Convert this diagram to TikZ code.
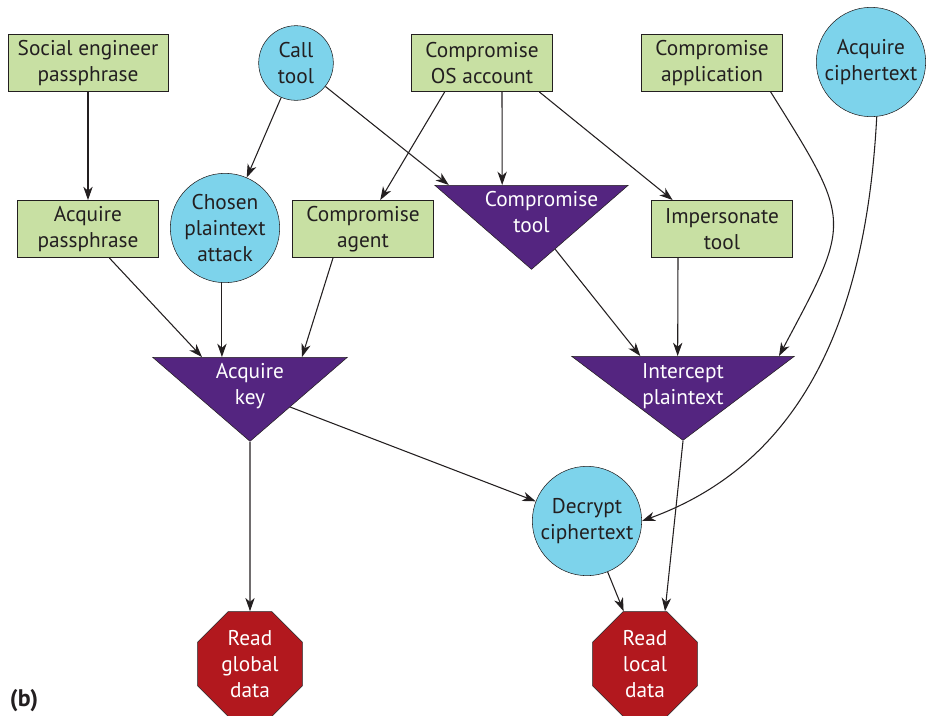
\documentclass[tikz,border=0pt]{standalone}
\usepackage{fontspec}
\setmainfont{PT Sans}
\usepackage{tikz}
\usetikzlibrary{shapes.geometric}
\usetikzlibrary{arrows.meta}
\definecolor{leafgreen}{RGB}{200,224,163}
\definecolor{toolblue}{RGB}{125,211,235}
\definecolor{gatepurple}{RGB}{84,37,128}
\definecolor{goalred}{RGB}{178,24,30}
\definecolor{inkgray}{RGB}{35,31,32}
\newcommand{\diagfont}{\fontsize{16pt}{19.5pt}\selectfont}
\tikzset{
    >={Stealth[length=10pt,width=7pt,inset=3pt]},
    every node/.style={font=\diagfont, align=center, text=inkgray},
    leaf/.style={shape=rectangle, draw=inkgray, fill=leafgreen, minimum width=105.5pt, minimum height=43pt, inner sep=2pt},
    tool/.style={shape=circle, draw=inkgray, fill=toolblue, inner sep=0pt},
    gate/.style={shape=isosceles triangle, isosceles triangle stretches, shape border rotate=-90, draw=inkgray, fill=gatepurple, text=white, text width=70pt, text depth=31pt, inner xsep=-30pt, inner ysep=-18pt, minimum height=63pt},
    goal/.style={shape=regular polygon, regular polygon sides=8, draw=inkgray, fill=goalred, text=white, inner sep=0pt, minimum size=85.2pt},
    link/.style={->, draw=inkgray, line width=0.8pt}}

\begin{document}
\begin{tikzpicture}[x=0.75pt, y=-0.75pt]
    \useasboundingbox (0,0) rectangle (932,715);

    \node[leaf, minimum width=120pt] (sep) at (88,63) {Social engineer\\passphrase};
    \node[tool, minimum size=56pt] (call) at (296,63) {Call\\tool};
    \node[leaf] (osacc) at (482,63) {Compromise\\OS account};
    \node[leaf] (app) at (712,63) {Compromise\\application};
    \node[tool, minimum size=82pt] (acqct) at (871,62) {Acquire\\ciphertext};

    \node[leaf] (acqpp) at (88,229) {Acquire\\passphrase};
    \node[tool, minimum size=82pt] (chosen) at (225,228) {Chosen\\plaintext\\attack};
    \node[leaf] (agent) at (363,229) {Compromise\\agent};
    \node[gate, minimum width=145pt, anchor=apex] (ctool) at (531.5,270) {Compromise\\tool};
    \node[leaf] (imp) at (722,229) {Impersonate\\tool};

    \node[gate, minimum width=146pt, anchor=apex] (akey) at (250,442) {Acquire\\key};
    \node[gate, minimum width=167pt, anchor=apex] (intc) at (683,441) {Intercept\\plaintext};
    \node[tool, minimum size=82pt] (decrypt) at (587,521) {Decrypt\\ciphertext};

    \node[goal] (rglob) at (250,664) {Read\\global\\data};
    \node[goal] (rloc) at (645,664) {Read\\local\\data};
    \node[font=\fontsize{18pt}{20pt}\selectfont\bfseries] (tag) at (24,701) {(b)};

    \draw[link] (sep) -- (acqpp);
    \draw[link] (call) -- ([xshift=-62pt]ctool.apex |- ctool.left corner);
    \draw[link] (call) -- (chosen);
    \draw[link] ([xshift=-28pt]osacc.south) -- (agent);
    \draw[link] ([xshift=15pt]osacc.south) -- ([xshift=-22pt]ctool.apex |- ctool.left corner);
    \draw[link] ([xshift=43pt]osacc.south) -- ([xshift=-37pt]imp.north);
    \draw[link] ([xshift=44pt]app.south) to[out=-58, in=62, looseness=1.5] ([xshift=72pt]intc.apex |- intc.left corner);
    \draw[link] (acqct.-84) to[out=-93, in=20] (decrypt.0);

    \draw[link] ([xshift=16pt]acqpp.south) -- ([xshift=-36pt]akey.apex |- akey.left corner);
    \draw[link] ([xshift=-2.3pt]chosen.south) -- ([xshift=-2.3pt]chosen.south |- akey.left corner);
    \draw[link] ([xshift=-22.5pt]agent.south) -- ([xshift=39pt]akey.apex |- akey.left corner);
    \draw[link] (ctool) -- ([xshift=-32pt]intc.apex |- intc.left corner);
    \draw[link] ([xshift=-33pt]imp.south) -- ([xshift=-4pt]intc.apex |- intc.left corner);

    \draw[link] (akey) -- (decrypt);
    \draw[link] (akey.apex) -- (rglob);
    \draw[link] (intc.apex) -- ([xshift=15pt]rloc.north);
    \draw[link] (decrypt) -- (rloc);
\end{tikzpicture}
\end{document}
